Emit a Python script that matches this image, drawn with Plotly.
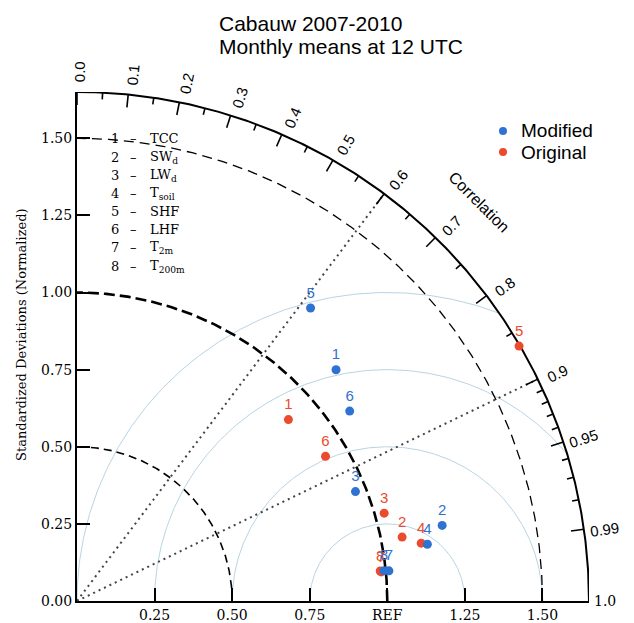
import numpy as np
import plotly.graph_objects as go

# ---------------- data ----------------
point_labels = ["1", "2", "3", "4", "5", "6", "7", "8"]
variable_names = ["TCC", "SW<sub>d</sub>", "LW<sub>d</sub>", "T<sub>soil</sub>",
                  "SHF", "LHF", "T<sub>2m</sub>", "T<sub>200m</sub>"]
mod_std = [1.122, 1.202, 0.965, 1.144, 1.212, 1.073, 1.010, 0.994]
mod_corr = [0.744, 0.979, 0.930, 0.987, 0.621, 0.819, 0.9953, 0.9951]
orig_std = [0.900, 1.068, 1.030, 1.125, 1.647, 0.928, 0.985, 0.982]
orig_corr = [0.757, 0.981, 0.961, 0.986, 0.865, 0.863, 0.9954, 0.9951]
series_names = ["Modified", "Original"]

corr_major = [0.0, 0.1, 0.2, 0.3, 0.4, 0.5, 0.6, 0.7, 0.8, 0.9, 0.95, 0.99]
corr_minor = [0.05, 0.15, 0.25, 0.35, 0.45, 0.55, 0.65, 0.75, 0.85,
              0.91, 0.92, 0.93, 0.94, 0.96, 0.97, 0.98]
std_tickvals = [0.25, 0.5, 0.75, 1.0, 1.25, 1.5]
std_ticktext = ["0.25", "0.50", "0.75", "REF", "1.25", "1.50"]
y_tickvals = [0.0, 0.25, 0.5, 0.75, 1.0, 1.25, 1.5]
y_ticktext = ["0.00", "0.25", "0.50", "0.75", "1.00", "1.25", "1.50"]
rms_radii = [0.25, 0.5, 0.75, 1.0]
radial_corr = [0.6, 0.9]

RMAX = 1.65
BLUE = "#2f72d2"
RED = "#ec4a2c"
SANS = "Liberation Sans, Arial, sans-serif"
SERIF = "DejaVu Serif, serif"

fig = go.Figure()

# RMS difference arcs centred at REF
for rr in rms_radii:
    phi = np.linspace(0, np.pi, 400)
    x = 1 + rr * np.cos(phi)
    y = rr * np.sin(phi)
    mask = (x ** 2 + y ** 2) <= RMAX ** 2 + 1e-9
    x = np.where(mask, x, np.nan)
    y = np.where(mask, y, np.nan)
    fig.add_trace(go.Scatter(x=x, y=y, mode="lines", hoverinfo="skip", showlegend=False,
                             line=dict(color="#b9d4e4", width=1)))

# std dev arcs (dashed)
th = np.linspace(0, np.pi / 2, 300)
for r, w, d in [(0.5, 1.6, "8px,5px"), (1.0, 2.6, "11px,5px"), (1.5, 1.3, "10px,6px")]:
    fig.add_trace(go.Scatter(x=r * np.cos(th), y=r * np.sin(th), mode="lines",
                             hoverinfo="skip", showlegend=False,
                             line=dict(color="black", width=w, dash=d)))

# radial dotted lines
for c in radial_corr:
    t = np.arccos(c)
    fig.add_trace(go.Scatter(x=[0, RMAX * np.cos(t)], y=[0, RMAX * np.sin(t)], mode="lines",
                             hoverinfo="skip", showlegend=False,
                             line=dict(color="#444444", width=2, dash="2px,4px")))

# outer arc
fig.add_trace(go.Scatter(x=RMAX * np.cos(th), y=RMAX * np.sin(th), mode="lines",
                         hoverinfo="skip", showlegend=False,
                         line=dict(color="black", width=2)))

# correlation ticks (inward)
tx, ty = [], []
for c in corr_major:
    t = np.arccos(c)
    tx += [RMAX * np.cos(t), (RMAX - 0.042) * np.cos(t), None]
    ty += [RMAX * np.sin(t), (RMAX - 0.042) * np.sin(t), None]
for c in corr_minor:
    t = np.arccos(c)
    tx += [RMAX * np.cos(t), (RMAX - 0.022) * np.cos(t), None]
    ty += [RMAX * np.sin(t), (RMAX - 0.022) * np.sin(t), None]
fig.add_trace(go.Scatter(x=tx, y=ty, mode="lines", hoverinfo="skip", showlegend=False,
                         line=dict(color="black", width=1.6)))

# data points
def xy(stds, corrs):
    s = np.array(stds)
    c = np.array(corrs)
    return s * c, s * np.sqrt(1 - c ** 2)

ox, oy = xy(orig_std, orig_corr)
mx, my = xy(mod_std, mod_corr)

fig.add_trace(go.Scatter(x=ox, y=oy, mode="markers+text", text=point_labels,
                         textposition="top center", name=series_names[1], showlegend=False,
                         textfont=dict(family=SANS, size=15, color=RED),
                         marker=dict(color=RED, size=9)))
fig.add_trace(go.Scatter(x=mx, y=my, mode="markers+text", text=point_labels,
                         textposition="top center", name=series_names[0], showlegend=False,
                         textfont=dict(family=SANS, size=15, color=BLUE),
                         marker=dict(color=BLUE, size=9)))

W, H = 634, 623
L, R, T, B = 77, 45, 92, 22
pw, ph = W - L - R, H - T - B
def px(xp):
    return (xp - L) / pw
def py(yp):
    return (H - B - yp) / ph

ann = []
shapes = []
# correlation labels (paper coords so they can sit outside the axes range)
for c in corr_major:
    t = np.arccos(c)
    r = 1.715
    ann.append(dict(x=r * np.cos(t - 0.006) / RMAX, y=r * np.sin(t - 0.006) / RMAX,
                    xref="paper", yref="paper",
                    text="0.0" if c == 0 else f"{c:g}", showarrow=False,
                    textangle=-np.degrees(t), font=dict(family=SANS, size=15, color="black"),
                    xanchor="center", yanchor="middle"))
ann.append(dict(x=1.70 / RMAX, y=0.0, xref="paper", yref="paper", text="1.0", showarrow=False,
                font=dict(family=SERIF, size=14, color="black"), xanchor="center", yanchor="middle"))
ann.append(dict(x=1.294 / RMAX, y=1.295 / RMAX, xref="paper", yref="paper", text="Correlation",
                showarrow=False, textangle=45, font=dict(family=SANS, size=16, color="black"),
                xanchor="center", yanchor="middle"))

# variable list
for i, (lab, name) in enumerate(zip(point_labels, variable_names)):
    yy = 1.498 - i * 0.0589
    ann.append(dict(x=0.121, y=yy, xref="x", yref="y", text=lab, showarrow=False,
                    font=dict(family=SERIF, size=13, color="black"), xanchor="center", yanchor="middle"))
    ann.append(dict(x=0.183, y=yy, xref="x", yref="y", text="–", showarrow=False,
                    font=dict(family=SERIF, size=13, color="black"), xanchor="center", yanchor="middle"))
    ann.append(dict(x=0.228, y=yy, xref="x", yref="y", text=name, showarrow=False,
                    font=dict(family=SERIF, size=13, color="black"), xanchor="left", yanchor="middle"))

# legend (manual)
for i, (nm, col) in enumerate(zip(series_names, [BLUE, RED])):
    yl = 131 + i * 21
    shapes.append(dict(type="circle", xref="paper", yref="paper",
                       xsizemode="pixel", ysizemode="pixel",
                       xanchor=px(503), yanchor=py(yl), x0=-4, x1=4, y0=-4, y1=4,
                       fillcolor=col, line=dict(width=0)))
    ann.append(dict(x=px(519), y=py(yl), xref="paper", yref="paper", text=nm, showarrow=False,
                    xanchor="left", yanchor="middle", font=dict(family=SANS, size=19, color="black")))

# title
ann.append(dict(x=px(217), y=py(23), xref="paper", yref="paper", text="Cabauw 2007-2010",
                showarrow=False, xanchor="left", yanchor="middle",
                font=dict(family=SANS, size=21, color="black")))
ann.append(dict(x=px(217), y=py(46), xref="paper", yref="paper", text="Monthly means at 12 UTC",
                showarrow=False, xanchor="left", yanchor="middle",
                font=dict(family=SANS, size=21, color="black")))
ann.append(dict(x=px(21), y=py(335), xref="paper", yref="paper",
                text="Standardized Deviations (Normalized)", showarrow=False, textangle=-90,
                xanchor="center", yanchor="middle", font=dict(family=SERIF, size=13, color="black")))

fig.update_layout(
    width=W, height=H,
    margin=dict(l=L, r=R, t=T, b=B, pad=0, autoexpand=False),
    paper_bgcolor="white", plot_bgcolor="white",
    annotations=ann,
    shapes=shapes,
    showlegend=False,
    xaxis=dict(range=[0, RMAX], showgrid=False, zeroline=False, showline=True, automargin=False,
               linecolor="black", linewidth=2, ticks="inside", ticklen=13, tickwidth=1.6,
               tickcolor="black", tickvals=std_tickvals, ticktext=std_ticktext,
               tickfont=dict(family=SERIF, size=14, color="black")),
    yaxis=dict(range=[0, RMAX], showgrid=False, zeroline=False, showline=True, automargin=False,
               linecolor="black", linewidth=2, ticks="inside", ticklen=13, tickwidth=1.6,
               tickcolor="black", tickvals=y_tickvals, ticktext=y_ticktext,
               tickfont=dict(family=SERIF, size=14, color="black")),
)

fig.write_html("out.html", config={"displayModeBar": False},
               post_script="document.body.style.margin='0';")
